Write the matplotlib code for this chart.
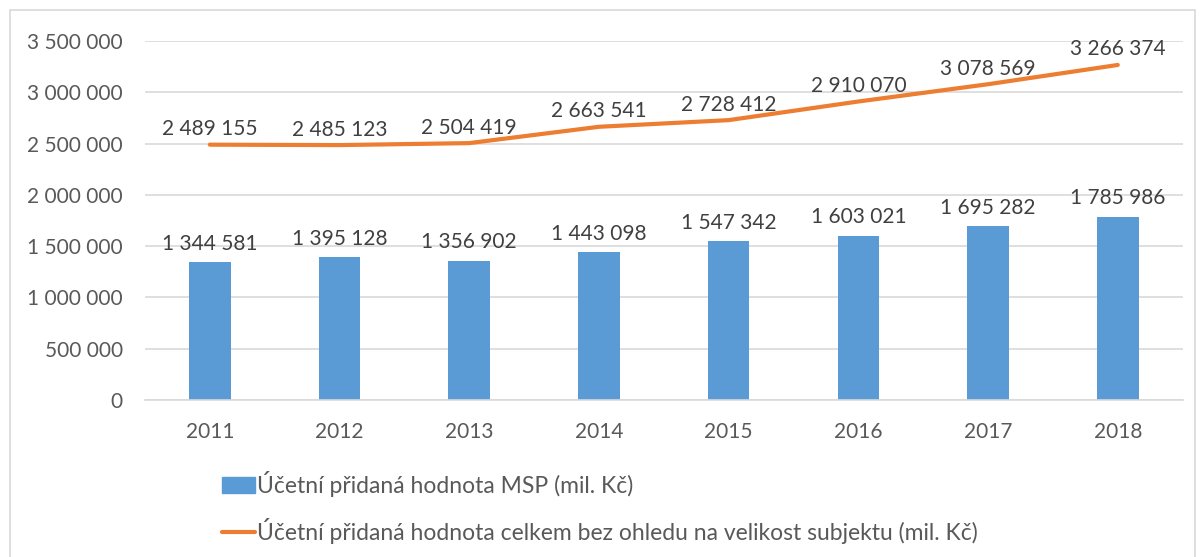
import matplotlib.pyplot as plt
import matplotlib.patches as mpatches
from matplotlib.lines import Line2D
from matplotlib.ticker import FuncFormatter

years = ["2011", "2012", "2013", "2014", "2015", "2016", "2017", "2018"]
msp = [1344581, 1395128, 1356902, 1443098, 1547342, 1603021, 1695282, 1785986]
total = [2489155, 2485123, 2504419, 2663541, 2728412, 2910070, 3078569, 3266374]

label_msp = "Účetní přidaná hodnota MSP (mil. Kč)"
label_total = "Účetní přidaná hodnota celkem bez ohledu na velikost subjektu (mil. Kč)"

BLUE = "#5B9BD5"
ORANGE = "#ED7D31"
TEXT = "#595959"


def fmt(v):
    return f"{int(v):,}".replace(",", " ")


plt.rcParams["font.family"] = ["Lato", "DejaVu Sans"]

fig = plt.figure(figsize=(12.01, 5.57), dpi=100)
ax = fig.add_axes([0.1207, 0.2819, 0.864, 0.6445])

x = list(range(len(years)))
ax.bar(x, msp, width=0.32, color=BLUE, zorder=2)
ax.plot(x, total, color=ORANGE, lw=3, solid_capstyle="round", zorder=3)

for xi, v in zip(x, msp):
    ax.annotate(fmt(v), (xi, v), xytext=(0, 6), textcoords="offset points",
                ha="center", va="bottom", fontsize=15, color="#404040")
for xi, v in zip(x, total):
    ax.annotate(fmt(v), (xi, v), xytext=(0, 4), textcoords="offset points",
                ha="center", va="bottom", fontsize=15, color="#404040")

ax.set_xlim(-0.5, len(years) - 0.5)
ax.set_ylim(0, 3500000)
ax.set_yticks(range(0, 3500001, 500000))
ax.yaxis.set_major_formatter(FuncFormatter(lambda v, p: fmt(v)))
ax.set_xticks(x)
ax.set_xticklabels(years)
ax.tick_params(axis="both", length=0, labelsize=15, colors=TEXT)
ax.tick_params(axis="y", pad=16)
ax.tick_params(axis="x", pad=16)
ax.grid(axis="y", color="#D9D9D9", lw=1.2, zorder=0)
for s in ["top", "right", "left"]:
    ax.spines[s].set_visible(False)
ax.spines["bottom"].set_color("#D9D9D9")
ax.spines["bottom"].set_linewidth(1.2)

handles = [
    mpatches.Patch(color=BLUE, label=label_msp),
    Line2D([0], [0], color=ORANGE, lw=3, solid_capstyle="round", label=label_total),
]
leg = fig.legend(handles=handles, loc="upper left", bbox_to_anchor=(0.177, 0.17),
                 frameon=False, fontsize=16.5, labelcolor=TEXT, handlelength=1.45,
                 handletextpad=0.1, labelspacing=0.9, borderaxespad=0)

frame = mpatches.Rectangle((10 / 1201, -0.02), 1185 / 1201, 1 - 10 / 557 + 0.02,
                           transform=fig.transFigure, fill=False,
                           edgecolor="#D9D9D9", lw=1.2)
fig.patches.append(frame)

fig.savefig("out.png", dpi=100)
